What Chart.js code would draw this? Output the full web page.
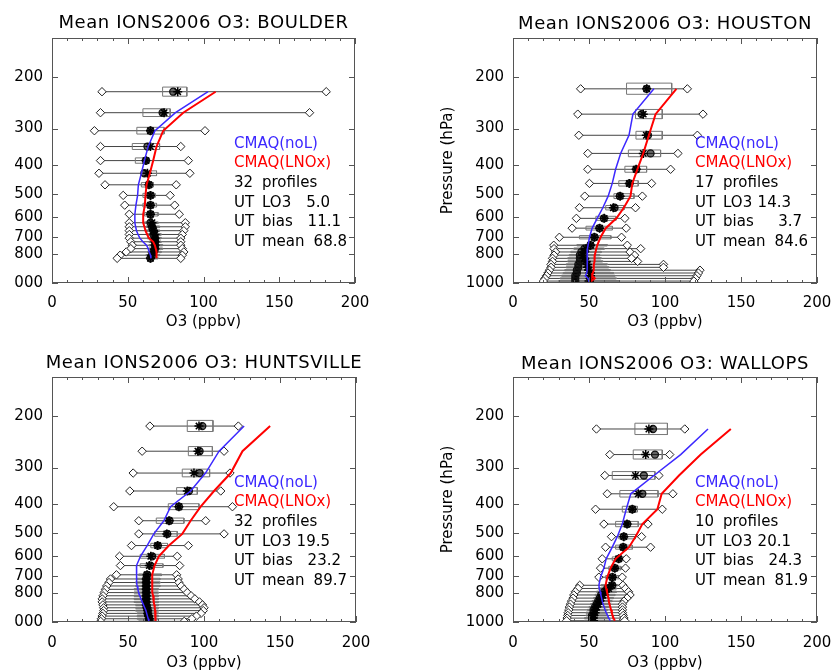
<!DOCTYPE html>
<html>
<head>
<meta charset="utf-8">
<script src="https://cdn.jsdelivr.net/npm/chart.js@4/dist/chart.umd.min.js"></script>
<style>
  html, body { margin: 0; padding: 0; background: #fff; }
  #wrap { position: relative; width: 831px; height: 671px; overflow: hidden; }
  canvas { position: absolute; }
</style>
</head>
<body>
<div id="wrap">
  <canvas id="c1" width="401" height="335" style="left:14px;top:0px"></canvas>
  <canvas id="c2" width="416" height="335" style="left:415px;top:0px"></canvas>
  <canvas id="c3" width="401" height="336" style="left:14px;top:335px"></canvas>
  <canvas id="c4" width="416" height="336" style="left:415px;top:335px"></canvas>
</div>
<script>
// axis ticks
const pTicks = [200, 300, 400, 500, 600, 700, 800, 1000];
const xTicks = [0, 50, 100, 150, 200];

// --- BOULDER ---
const boulderP    = [225,265,305,345,385,425,465,505,545,585,625,645,665,685,705,725,745,765,785,805,825];
const boulderMin  = [33,32,28,32,32,31,35,47,48,51,51,51,51,51,51,52,53,52,49,45,43];
const boulderQ1   = [73,60,56,53,55,59,59,60,60,61,61,62,62,63,63,64,64,64,63,62,62];
const boulderMed  = [80,73,65,63,62,61,64,65,65,65,65,66,67,67,68,68,68,68,67,66,65];
const boulderMean = [83,74,65,65,62,63,64,65,65,65,66,66,67,68,68,68,68,68,67,66,65];
const boulderQ3   = [89,78,74,71,64,69,67,68,69,70,70,71,71,72,72,72,73,73,72,71,70];
const boulderMax  = [181,170,101,85,90,91,82,78,81,84,88,88,87,86,85,85,85,86,87,86,85];
const boulderNoL  = [103,81.5,68,63.5,61,59,57,56.5,55.4,54.7,54.7,55.2,55.8,56.8,58,60,62.4,63.5,64.2,65,65.3];
const boulderLNOx = [108,86.6,73.4,69,66.8,64.6,62.4,61.7,61.3,60.2,60.2,61,61.7,62.8,64,66.8,67.9,68.5,69,69,69];
const boulderStats = ['32', '5.0', '11.1', '68.8'];

// --- HOUSTON ---
const houstonP    = [220,268,316,364,412,460,508,556,604,652,700,745,765,785,805,825,845,865,885,905,925,945,965,985];
const houstonMin  = [44.5,42.6,43.3,49.2,49.2,50.3,47.2,43.7,41.7,38.9,30.5,26.8,27,28,27,26,26,25,25,24,23,22,21,20];
const houstonQ1   = [74.7,80.6,80.9,75.9,73.6,69.6,66.4,61,54.5,48,43.7,42,40,38,37,36,36,35,35,34,33,32,31,30];
const houstonMed  = [87.9,84.6,88.8,90.5,81.1,76.7,70.3,66.8,59.8,56.9,53.6,51,47,45,44,44,44,43,43,42,42,41,41,41];
const houstonMean = [88,85.7,87.7,85.7,81,76.5,70.5,66,60,57,53.5,51,48,47,46,47,48,49,49,50,51,51,51,50];
const houstonQ3   = [104.4,98.2,98.2,97.1,87.9,82.4,79.6,73,67.7,65.4,64.4,62,60,58,57,58,59,62,63,64,66,67,68,70];
const houstonMax  = [114.7,125,121.3,108.5,103.7,91.2,85.1,80.6,73.6,74.5,71.4,75.2,84,77,80,78,82,99,99,123,122,121,120,119];
const houstonNoL  = [92.7,78.9,76.3,70.8,67.5,65.3,62.6,59.1,55.4,52.1,50.3,49.4,49,48.8,48.8,48.8,48.8,48.8,48.8,48.8,48.5,47.6,49.4,49.9];
const houstonLNOx = [107.5,93.8,89.4,85.7,81.8,78.5,77.3,72.9,68,61,57.6,55.4,54.8,54.3,53.8,53.8,53.5,53.2,53.2,53,52.5,52.1,53.8,51.6];
const houstonStats = ['17', '14.3', '3.7', '84.6'];

// --- HUNTSVILLE ---
const huntsvilleP    = [217,264,313,360,407,454,503,551,599,644,692,715,735,755,775,795,815,835,855,875,895,915,935,955,975,995];
const huntsvilleMin  = [64.4,59.3,53.4,51.2,40.6,57.1,57.1,52.3,44.4,45,42.4,38.5,37.5,36,35.2,34.3,33.6,33,33,33.5,34,34,33.5,33,32.5,32];
const huntsvilleQ1   = [89,89.7,85.7,82,76.5,68.6,67.5,65,58,58,57,56,55,55,54,54,54,54,54,55,55,55,56,56,56,57];
const huntsvilleMed  = [98.9,97.1,97.1,90.1,83.5,77.3,75.8,69.6,65.9,64.8,62.6,62,62,62,62,62,62,62,62,62,62.5,63,63,63.5,64,64];
const huntsvilleMean = [96.7,96,93.4,89,83.5,77,75.5,69.5,65,64,62.5,62,62,62,62,62,62,62,62,62,62.5,63,63,63.5,64,64];
const huntsvilleQ3   = [105.9,105.5,103.7,95.6,96.7,86.8,82.4,76,74,73,72,71,71,71,70,70,70,70,70,70,70,70,70,70,70,69];
const huntsvilleMax  = [122.6,113.2,117.1,111,118.7,101.1,113.2,89.7,82.4,84,82,83,83.5,85,87,89,91.5,94,97,99,100,99.5,98,95,92,87];
const huntsvilleNoL  = [126.4,109.9,101,91.2,78,73.6,67,62.6,58.2,55.6,55.6,55.6,55.8,56,56.5,57,57.8,58.5,59.3,60.2,61,61.8,62.3,62.8,63.3,63.7];
const huntsvilleLNOx = [143.5,125.3,117.6,106.6,97.8,91.2,85.7,76.9,70.3,67.5,65.9,65.9,65.9,65.9,65.9,66.2,66.5,66.8,67,67.3,67.6,67.8,68,68.1,68.1,68.1];
const huntsvilleStats = ['32', '19.5', '23.2', '89.7'];

// --- WALLOPS ---
const wallopsP    = [222,271,319,368,415,466,514,558,611,657,705,751,770,790,810,830,850,870,890,910,930,950,970,990];
const wallopsMin  = [54.9,63.7,60.4,62,54.3,59.8,64.8,60.9,58.7,57.6,56.5,43.9,42.8,41,40,39.5,38.5,37.8,37.1,36.7,36.3,36,35.6,35.3];
const wallopsQ1   = [80.2,79.1,65.3,70.3,71.9,67.5,69.6,67.5,65.3,63,61,58,56,55,54,53,52,51,50,49,48,48,47,47];
const wallopsMed  = [92.1,93.4,86.1,85.1,78.5,75.2,72.9,72.5,69.6,67,65.3,65.3,62,60,58,57,56,55,54,53,53,52,52,52];
const wallopsMean = [89.4,87.3,80.6,82.4,78.5,75,72.9,72.5,69.5,67,65.5,65,63,61,59,58,57,56,55,54,54,53,53,53];
const wallopsQ3   = [101.6,98.2,93.4,95.4,81.8,82.4,80.6,78.5,73,71,70,69,68,68,67,66,65,64,63,62,62,62,63,63];
const wallopsMax  = [113,103.1,96,105.2,98.2,88.8,84.6,90.5,74.5,74,71.9,72.3,74,76,77,75,73,72,72,72,72,72.5,73,73.5];
const wallopsNoL  = [128.3,110.3,92.7,77.5,74.5,71.9,68.6,65.3,61.3,59.8,57.6,56.5,56.8,57.3,57.8,58.3,58.7,59.3,60,60.6,61.3,62.2,63,64];
const wallopsLNOx = [143.3,123.5,109.2,97.8,95,85.1,80.6,76.3,67.5,64.2,62,60.9,61.3,61.8,62.3,62.8,63,63.5,64,64.5,65,65.5,66.2,67];
const wallopsStats = ['10', '20.1', '24.3', '81.9'];

const BLUE = 'rgb(60,40,255)';
const RED = 'rgb(255,0,0)';
const FONT = '"DejaVu Sans", sans-serif';

Chart.defaults.font.family = FONT;
Chart.defaults.color = '#000';

const panels = [
  { id: 'c1', name: 'BOULDER', p: boulderP, min: boulderMin, q1: boulderQ1, med: boulderMed, mean: boulderMean, q3: boulderQ3, max: boulderMax, noL: boulderNoL, lnox: boulderLNOx, stats: boulderStats,
    area: {l: 38, t: 38, r: 341, b: 283}, titleY: 23, yTitle: false, boxH: 9, tickPad: 11, xtPad: 4 },
  { id: 'c2', name: 'HOUSTON', p: houstonP, min: houstonMin, q1: houstonQ1, med: houstonMed, mean: houstonMean, q3: houstonQ3, max: houstonMax, noL: houstonNoL, lnox: houstonLNOx, stats: houstonStats,
    area: {l: 98, t: 38, r: 402, b: 283}, titleY: 24, yTitle: true, boxH: 11, tickPad: 11, xtPad: 4 },
  { id: 'c3', name: 'HUNTSVILLE', p: huntsvilleP, min: huntsvilleMin, q1: huntsvilleQ1, med: huntsvilleMed, mean: huntsvilleMean, q3: huntsvilleQ3, max: huntsvilleMax, noL: huntsvilleNoL, lnox: huntsvilleLNOx, stats: huntsvilleStats,
    area: {l: 38, t: 42, r: 342, b: 287}, titleY: 28, yTitle: false, boxH: 9.5, tickPad: 12, xtPad: -1 },
  { id: 'c4', name: 'WALLOPS', p: wallopsP, min: wallopsMin, q1: wallopsQ1, med: wallopsMed, mean: wallopsMean, q3: wallopsQ3, max: wallopsMax, noL: wallopsNoL, lnox: wallopsLNOx, stats: wallopsStats,
    area: {l: 98, t: 42, r: 402, b: 287}, titleY: 29, yTitle: true, boxH: 10.5, tickPad: 12, xtPad: -1 }
];

// frame, inward ticks, title and the text block
const panelDecor = {
  id: 'panelDecor',
  afterDraw(chart) {
    const o = chart.options.plugins.panelDecor;
    const {ctx, chartArea: a, scales} = chart;
    ctx.save();
    ctx.strokeStyle = '#555';
    ctx.lineWidth = 1;
    ctx.strokeRect(a.left + 0.5, a.top + 0.5, a.right - a.left - 1, a.bottom - a.top - 1);
    ctx.beginPath();
    for (let v = 0; v <= 200; v += 10) {
      const x = Math.round(scales.x.getPixelForValue(v)) + 0.5;
      const len = v % 50 === 0 ? 6 : 3;
      ctx.moveTo(x, a.bottom); ctx.lineTo(x, a.bottom - len);
      ctx.moveTo(x, a.top); ctx.lineTo(x, a.top + len);
    }
    pTicks.forEach(p => {
      const y = Math.round(scales.y.getPixelForValue(p)) + 0.5;
      ctx.moveTo(a.left, y); ctx.lineTo(a.left + 6, y);
      ctx.moveTo(a.right, y); ctx.lineTo(a.right - 6, y);
    });
    ctx.stroke();

    ctx.fillStyle = '#000';
    ctx.textBaseline = 'middle';
    ctx.textAlign = 'center';
    ctx.font = '18px ' + FONT;
    ctx.letterSpacing = '0.6px';
    ctx.fillText(o.title, (a.left + a.right) / 2, o.titleY);
    ctx.letterSpacing = '0px';

    ctx.font = '15px ' + FONT;
    ctx.textAlign = 'left';
    const x0 = a.left + 182, y0 = a.top + 106, dy = 19.6;
    ctx.fillStyle = BLUE; ctx.fillText('CMAQ(noL)', x0, y0);
    ctx.fillStyle = RED;  ctx.fillText('CMAQ(LNOx)', x0, y0 + dy);
    ctx.fillStyle = '#000';
    ctx.fillText(o.stats[0], x0, y0 + 2 * dy);
    ctx.fillText('profiles', x0 + 28, y0 + 2 * dy);
    // value columns end where the reference ends them
    const rows = [['LO3', 96], ['bias', 107], ['mean', 113]];
    rows.forEach((r, i) => {
      const y = y0 + (3 + i) * dy;
      const val = o.stats[i + 1];
      ctx.fillText('UT', x0, y);
      ctx.fillText(r[0], x0 + 28, y);
      ctx.fillText(val, x0 + r[1] - ctx.measureText(val).width, y);
    });
    ctx.restore();
  }
};

function buildDatasets(s) {
  const whisk = [], boxes = [], ends = [], meds = [], means = [];
  s.p.forEach((p, i) => {
    const gap = Math.min(i > 0 ? p - s.p[i - 1] : 99, i < s.p.length - 1 ? s.p[i + 1] - p : 99);
    const h = Math.min(s.boxH, gap * 0.2);
    whisk.push({x: s.min[i], y: p}, {x: s.max[i], y: p}, {x: null, y: null});
    boxes.push({x: s.q1[i], y: p - h}, {x: s.q3[i], y: p - h}, {x: s.q3[i], y: p + h},
               {x: s.q1[i], y: p + h}, {x: s.q1[i], y: p - h}, {x: null, y: null});
    ends.push({x: s.min[i], y: p}, {x: s.max[i], y: p});
    meds.push({x: s.med[i], y: p});
    means.push({x: s.mean[i], y: p});
  });
  const line = (data, color, w) => ({ data, showLine: true, borderColor: color, borderWidth: w, pointRadius: 0, fill: false, spanGaps: false });
  return [
    line(s.p.map((p, i) => ({x: s.lnox[i], y: p})), RED, 2),
    line(s.p.map((p, i) => ({x: s.noL[i], y: p})), BLUE, 1.5),
    { data: means, pointStyle: 'star', pointRadius: 4.5, borderColor: '#000', borderWidth: 1.5, backgroundColor: '#000' },
    { data: meds, pointStyle: 'circle', pointRadius: 3.5, borderColor: '#111', borderWidth: 1.3, backgroundColor: 'rgba(0,0,0,0.6)' },
    { data: ends, pointStyle: 'rectRot', pointRadius: 4.2, borderColor: '#222', borderWidth: 1, backgroundColor: '#fff' },
    line(boxes, '#777', 1),
    line(whisk, '#444', 1)
  ];
}

panels.forEach(s => {
  const canvas = document.getElementById(s.id);
  const W = canvas.width, H = canvas.height;
  const a = s.area;
  new Chart(canvas, {
    type: 'scatter',
    data: { datasets: buildDatasets(s) },
    options: {
      responsive: false,
      animation: false,
      events: [],
      layout: { padding: { left: 0, top: a.t, right: W - a.r, bottom: 0 } },
      plugins: {
        legend: { display: false },
        tooltip: { enabled: false },
        panelDecor: { title: 'Mean IONS2006 O3: ' + s.name, titleY: s.titleY, stats: s.stats }
      },
      scales: {
        x: {
          type: 'linear', min: 0, max: 200,
          afterBuildTicks: sc => { sc.ticks = xTicks.map(v => ({value: v})); },
          afterFit: sc => { sc.height = H - a.b; sc.paddingLeft = 0; sc.paddingRight = 0; },
          grid: { display: false, drawTicks: false },
          border: { display: false },
          ticks: { padding: s.tickPad, maxRotation: 0, autoSkip: false, font: { size: 15 }, color: '#000' },
          title: { display: true, text: 'O3 (ppbv)', font: { size: 15 }, color: '#000', padding: { top: 0, bottom: s.xtPad } }
        },
        y: {
          type: 'logarithmic', reverse: true, min: 148, max: 1000,
          afterBuildTicks: sc => { sc.ticks = pTicks.map(v => ({value: v})); },
          afterFit: sc => { sc.width = a.l; sc.paddingTop = 0; sc.paddingBottom = 0; },
          grid: { display: false, drawTicks: false },
          border: { display: false },
          ticks: { padding: 9, autoSkip: false, font: { size: 15 }, color: '#000', callback: v => String(v) },
          title: { display: s.yTitle, text: 'Pressure (hPa)', font: { size: 15 }, color: '#000', padding: { top: 24, bottom: 0 } }
        }
      }
    },
    plugins: [panelDecor]
  });
});
</script>
</body>
</html>
